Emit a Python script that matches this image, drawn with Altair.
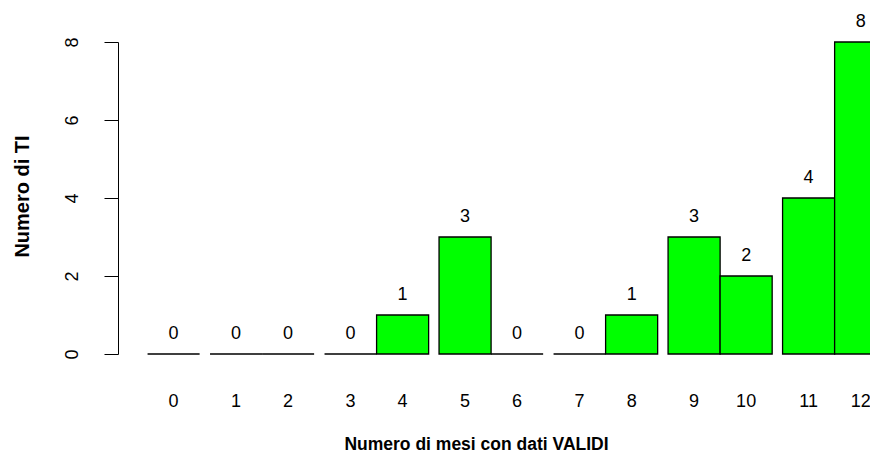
import altair as alt
import pandas as pd
import numpy as np

categories = ["0", "1", "2", "3", "4", "5", "6", "7", "8", "9", "10", "11", "12"]
counts = [0, 0, 0, 0, 1, 3, 0, 0, 1, 3, 2, 4, 8]
space_before = [0.2, 0.2, 0, 0.2, 0, 0.2, 0, 0.2, 0, 0.2, 0, 0.2, 0]
y_ticks = [0, 2, 4, 6, 8]

right = np.cumsum(np.array(space_before) + 1.0)
left = right - 1.0
mid = right - 0.5
df = pd.DataFrame({"cat": categories, "n": counts, "left": left, "right": right, "mid": mid})

FONT = "Liberation Sans"
FS = 18
TFS = 17.5
YTFS = 20

PX_PER_UNIT = 52.05
PLOT_W = 752
xscale = alt.Scale(domain=[-0.368, -0.368 + PLOT_W / PX_PER_UNIT], nice=False, zero=False)
yscale = alt.Scale(domain=[0, 8], nice=False)

base = alt.Chart(df)

bars = base.mark_rect(fill="#00FF00", stroke="black", strokeWidth=1.3).encode(
    x=alt.X("left:Q", scale=xscale,
            axis=alt.Axis(title="Numero di mesi con dati VALIDI", labels=False, ticks=False,
                          domain=False, grid=False, titleX=358, titleY=90,
                          titleBaseline="middle", titleAlign="center",
                          titleFontSize=TFS, titleFontWeight="bold", titleFont=FONT,
                          titleColor="black")),
    x2="right:Q",
    y=alt.Y("n:Q", scale=yscale,
            axis=alt.Axis(title="Numero di TI", values=y_ticks, tickSize=14, tickColor="black",
                          domainColor="black", tickWidth=1, domainWidth=1, grid=False,
                          labelAngle=-90, labelAlign="center", labelBaseline="middle",
                          labelPadding=32, labelFontSize=FS, labelFont=FONT, labelColor="black",
                          titleAngle=-90, titleX=-96, titleY=154, titleAlign="center",
                          titleBaseline="middle", titleFontSize=YTFS, titleFontWeight="bold",
                          titleFont=FONT, titleColor="black")),
    y2=alt.datum(0),
)

values = base.mark_text(dy=-20, baseline="middle", align="center", fontSize=FS, font=FONT,
                        color="black").encode(
    x=alt.X("mid:Q", scale=xscale),
    y=alt.Y("n:Q", scale=yscale),
    text=alt.Text("n:Q"),
)

xlabels = base.mark_text(baseline="middle", align="center", fontSize=FS, font=FONT,
                         color="black").encode(
    x=alt.X("mid:Q", scale=xscale),
    y=alt.value(360),
    text=alt.Text("cat:N"),
)

chart = alt.layer(bars, values, xlabels).properties(
    width=PLOT_W, height=312,
    background="white",
    autosize=alt.AutoSizeParams(type="none"),
    padding={"left": 110, "top": 34, "right": 0, "bottom": 103},
).configure_view(stroke=None).configure_axis(grid=False)

chart.save("out.html", embed_options={"renderer": "svg", "actions": False})
